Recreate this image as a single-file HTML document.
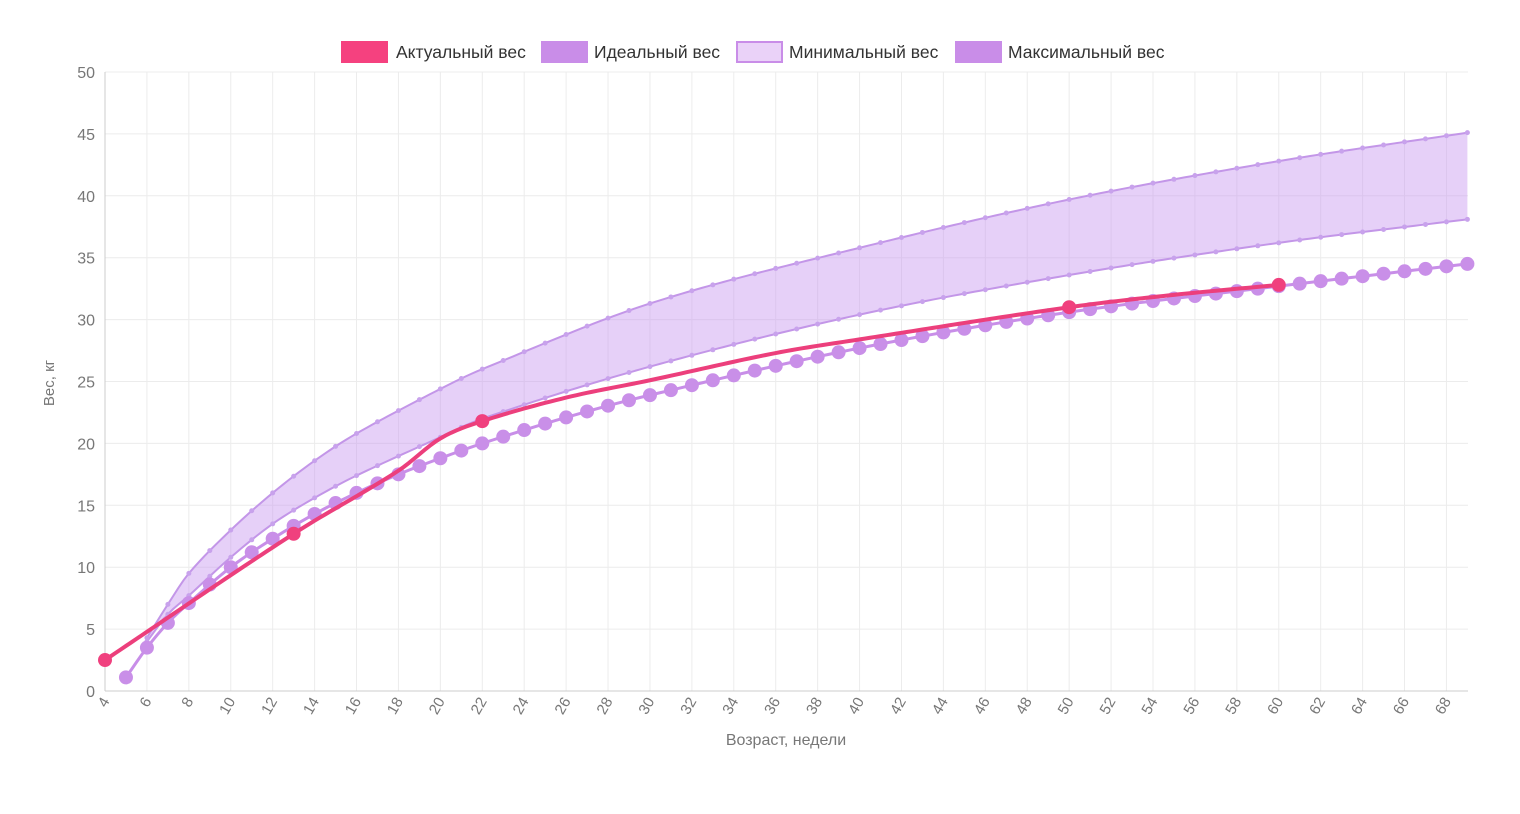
<!DOCTYPE html>
<html><head><meta charset="utf-8"><style>
html,body{margin:0;padding:0;background:#fff;width:1520px;height:814px;overflow:hidden}
svg{font-family:"Liberation Sans",sans-serif}
</style></head><body>
<svg id="s" width="1520" height="814" xmlns="http://www.w3.org/2000/svg"></svg>
<script>
const S=document.getElementById('s');
const X0=105,PX=20.96,Y0=691,PY=12.38;
const fx=w=>X0+(w-4)*PX, fy=v=>Y0-v*PY;
function interp(a,w){
  for(let i=0;i<a.length-1;i++){
    if(w>=a[i][0]&&w<=a[i+1][0]){
      const p0=a[Math.max(0,i-1)],p1=a[i],p2=a[i+1],p3=a[Math.min(a.length-1,i+2)];
      const t=(w-p1[0])/(p2[0]-p1[0]);
      const m1=(p2[1]-p0[1])/(p2[0]-p0[0])*(p2[0]-p1[0]);
      const m2=(p3[1]-p1[1])/(p3[0]-p1[0])*(p2[0]-p1[0]);
      const t2=t*t,t3=t2*t;
      return (2*t3-3*t2+1)*p1[1]+(t3-2*t2+t)*m1+(-2*t3+3*t2)*p2[1]+(t3-t2)*m2;
    }}
  return a[a.length-1][1];
}
const ideal=[[5,1.1],[6,3.5],[7,5.5],[8,7.1],[10,10],[12,12.3],[14,14.3],[16,16],[18,17.5],[20,18.8],[22,20],[26,22.1],[30,23.9],[40,27.7],[50,30.6],[60,32.7],[69,34.5]];
const mx=[[6,4.3],[7,7],[8,9.5],[10,13],[12,16],[14,18.6],[16,20.8],[20,24.4],[22,26],[30,31.3],[40,35.8],[50,39.7],[60,42.8],[69,45.1]];
const mn=[[6,4],[7,6.2],[8,7.7],[10,10.8],[12,13.5],[14,15.6],[16,17.4],[20,20.5],[22,22.0],[30,26.2],[40,30.4],[50,33.6],[60,36.2],[69,38.1]];
const act=[[4,2.5],[13,12.7],[18,17.8],[20,20.4],[22,21.8],[26,23.7],[30,25.1],[36,27.3],[40,28.4],[50,31],[55,32],[60,32.8]];
let h='';
for(let v=0;v<=50;v+=5){const y=fy(v);h+=`<line x1="${X0}" x2="1468" y1="${y}" y2="${y}" stroke="#ececec"/>`;
h+=`<text x="95" y="${y+6}" text-anchor="end" font-size="16" fill="#777">${v}</text>`;}
for(let w=4;w<=69;w+=2){const x=fx(w);h+=`<line x1="${x}" x2="${x}" y1="72" y2="${Y0}" stroke="#ececec"/>`;
h+=`<text transform="translate(${x+5},${Y0+10}) rotate(-60)" text-anchor="end" font-size="15" fill="#777">${w}</text>`;}
h+=`<line x1="${X0}" x2="${X0}" y1="72" y2="${Y0}" stroke="#ccc"/><line x1="${X0}" x2="1468" y1="${Y0}" y2="${Y0}" stroke="#ccc"/>`;
function pts(a,from,to,step){let r=[];for(let w=from;w<=to+1e-9;w+=step)r.push([fx(w),fy(interp(a,w))]);return r;}
const pmx=pts(mx,6,69,0.25),pmn=pts(mn,6,69,0.25);
h+=`<path d="M${pmx.map(p=>p.join(',')).join('L')}L${pmn.slice().reverse().map(p=>p.join(',')).join('L')}Z" fill="rgba(200,150,240,0.45)"/>`;
h+=`<path d="M${pmx.map(p=>p.join(',')).join('L')}" fill="none" stroke="#c396e8" stroke-width="2"/>`;
h+=`<path d="M${pmn.map(p=>p.join(',')).join('L')}" fill="none" stroke="#c396e8" stroke-width="2"/>`;
for(let w=6;w<=69;w++){h+=`<circle cx="${fx(w)}" cy="${fy(interp(mx,w))}" r="2.5" fill="#c8a2ec"/><circle cx="${fx(w)}" cy="${fy(interp(mn,w))}" r="2.5" fill="#c8a2ec"/>`;}
const pid=pts(ideal,5,69,0.25);
h+=`<path d="M${pid.map(p=>p.join(',')).join('L')}" fill="none" stroke="#c88ee8" stroke-width="3"/>`;
for(let w=5;w<=69;w++)h+=`<circle cx="${fx(w)}" cy="${fy(interp(ideal,w))}" r="7" fill="#c98fe8"/>`;
const pa=pts(act,4,60,0.25);
h+=`<path d="M${pa.map(p=>p.join(',')).join('L')}" fill="none" stroke="#ec3f7c" stroke-width="4"/>`;
[[4,2.5],[13,12.7],[22,21.8],[50,31],[60,32.8]].forEach(p=>h+=`<circle cx="${fx(p[0])}" cy="${fy(p[1])}" r="7" fill="#f0407e"/>`);
const L=[[341,'#f5417f','#f5417f','Актуальный вес',396],[541,'#c98de8','#c98de8','Идеальный вес',594],[736,'#ead2f8','#c98de8','Минимальный вес',789],[955,'#c98de8','#c98de8','Максимальный вес',1008]];
L.forEach(l=>{h+=`<rect x="${l[0]+1}" y="42" width="45" height="20" fill="${l[1]}" stroke="${l[2]}" stroke-width="2"/><text x="${l[4]}" y="58" font-size="17.5" fill="#333">${l[3]}</text>`;});
h+=`<text transform="translate(54,383) rotate(-90)" text-anchor="middle" font-size="15" fill="#777">Вес, кг</text>`;
h+=`<text x="786" y="745" text-anchor="middle" font-size="16" fill="#777">Возраст, недели</text>`;
S.innerHTML=h;
</script>
</body></html>
